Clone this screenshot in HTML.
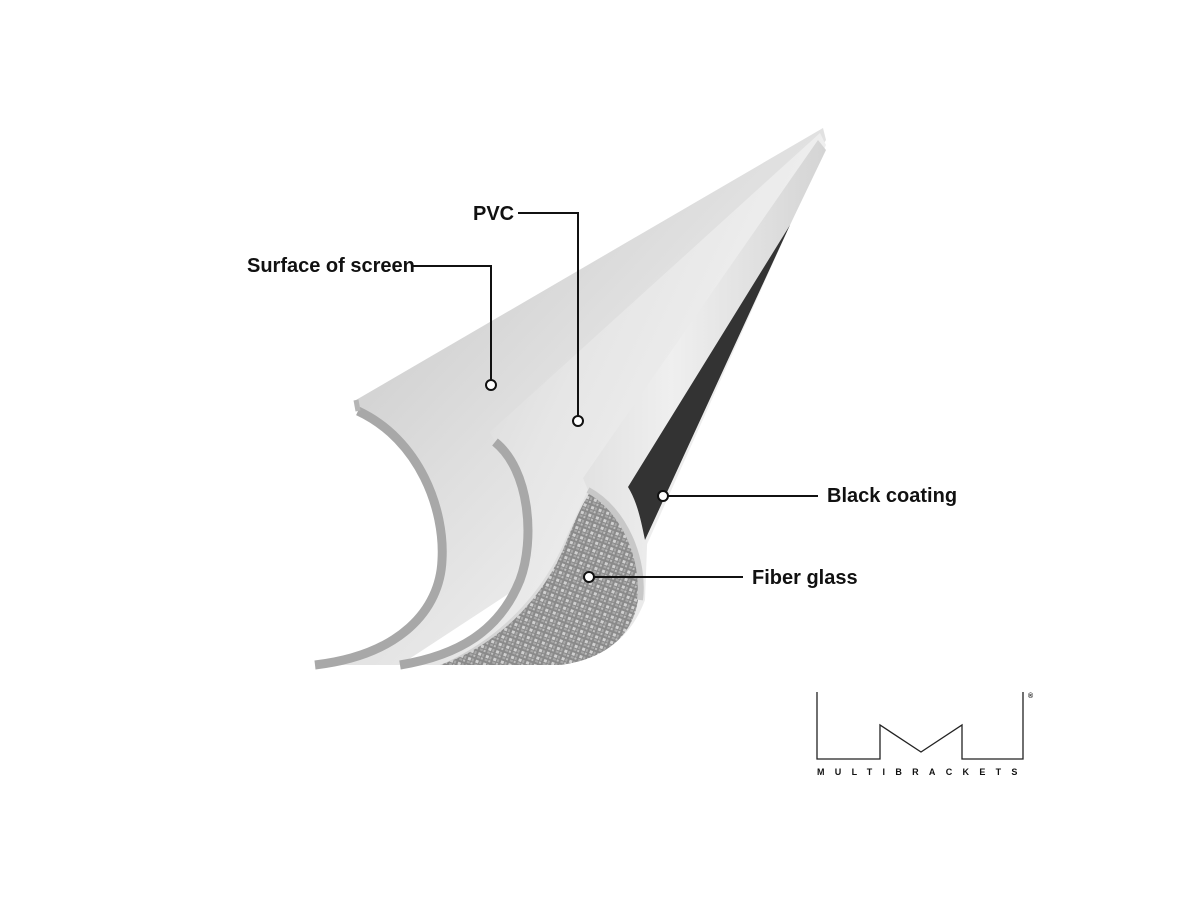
<!DOCTYPE html>
<html><head><meta charset="utf-8"><style>
html,body{margin:0;padding:0;background:#fff;}
svg{display:block}
text{font-family:"Liberation Sans",sans-serif;font-weight:bold;fill:#111}
</style></head><body>
<svg width="1200" height="900" viewBox="0 0 1200 900" xmlns="http://www.w3.org/2000/svg">
<defs>
<linearGradient id="g1" x1="0" y1="0" x2="1" y2="1">
<stop offset="0" stop-color="#bfbfbf"/><stop offset="0.45" stop-color="#dedede"/><stop offset="1" stop-color="#ffffff"/>
</linearGradient>
<linearGradient id="g2" x1="0" y1="0" x2="1" y2="0.6">
<stop offset="0" stop-color="#c8c8c8"/><stop offset="0.5" stop-color="#e6e6e6"/><stop offset="1" stop-color="#f6f6f6"/>
</linearGradient>
<linearGradient id="g3" x1="0" y1="0" x2="1" y2="0">
<stop offset="0" stop-color="#cccccc"/><stop offset="0.6" stop-color="#efefef"/><stop offset="1" stop-color="#d4d4d4"/>
</linearGradient>
<pattern id="fg" width="8" height="8" patternUnits="userSpaceOnUse" patternTransform="rotate(20)">
<rect width="8" height="8" fill="#8a8a8a"/>
<rect x="1" y="1" width="3" height="3" fill="#d0d0d0"/>
<rect x="5" y="5" width="2" height="2" fill="#c0c0c0"/>
<rect x="5" y="1" width="2" height="3" fill="#a8a8a8"/>
<rect x="1" y="5" width="3" height="2" fill="#a8a8a8"/>
</pattern>
</defs>
<path d="M823,128 L826,140 L560,560 L400,665 L315,665 C400,655 440,610 442,560 C445,510 420,440 358,410 L356,400 Z" fill="url(#g1)"/>
<path d="M358,411 C420,440 445,510 442,560 C440,610 400,655 315,665" fill="none" stroke="#a8a8a8" stroke-width="9"/>
<path d="M356,400 L358,411" stroke="#b5b5b5" stroke-width="5"/>
<path d="M820,133 L826,145 L640,560 L480,665 L400,665 C460,655 500,630 520,580 C535,540 530,470 495,442 L490,432 Z" fill="url(#g2)"/>
<path d="M495,442 C530,470 535,540 520,580 C500,630 460,655 400,665" fill="none" stroke="#a8a8a8" stroke-width="9"/>
<path d="M818,140 L826,150 L790,225 L628,487 L648,520 L645,600 C630,640 600,660 560,665 L440,665 C500,640 545,590 565,540 L588,490 L583,478 Z" fill="url(#g3)"/>
<path d="M590,492 C625,512 642,560 638,600 C632,640 600,660 560,665 L440,665 C500,645 545,595 565,545 C575,520 582,505 590,492 Z" fill="url(#fg)"/>
<path d="M588,490 C625,510 645,560 640,600" fill="none" stroke="#c8c8c8" stroke-width="6"/>
<path d="M628,487 L790,225 L645,540 C640,515 636,500 628,487 Z" fill="#333333"/>
<g stroke="#111" stroke-width="2" fill="none">
<polyline points="413,266 491,266 491,380"/>
<polyline points="518,213 578,213 578,416"/>
<line x1="668" y1="496" x2="818" y2="496"/>
<line x1="594" y1="577" x2="743" y2="577"/>
</g>
<g fill="#fff" stroke="#111" stroke-width="2">
<circle cx="491" cy="385" r="5"/>
<circle cx="578" cy="421" r="5"/>
<circle cx="663" cy="496" r="5"/>
<circle cx="589" cy="577" r="5"/>
</g>
<text x="247" y="272" font-size="20">Surface of screen</text>
<text x="473" y="220" font-size="20">PVC</text>
<text x="827" y="502" font-size="20">Black coating</text>
<text x="752" y="584" font-size="20">Fiber glass</text>
<polyline points="817,692 817,759 880,759 880,725 921,752 962,725 962,759 1023,759 1023,692" fill="none" stroke="#222" stroke-width="1.3"/>
<text x="1028" y="698" font-size="7" font-weight="normal">®</text>
<text x="817" y="775" font-size="9" style="letter-spacing:10.3px">MULTIBRACKETS</text>
</svg>
</body></html>
